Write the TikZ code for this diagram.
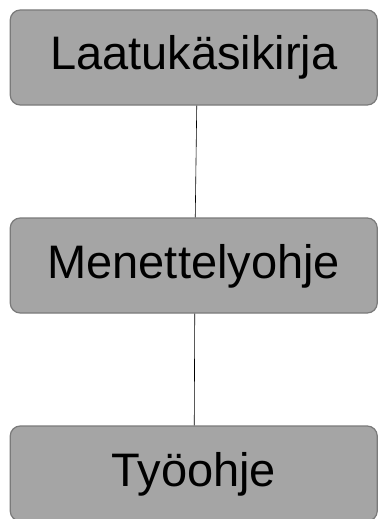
\documentclass[tikz,border=0pt]{standalone}
\usepackage{fontspec}
\setmainfont{Liberation Sans}
\definecolor{boxfill}{HTML}{A5A5A5}
\definecolor{boxline}{HTML}{7A7A7A}
\begin{document}
\begin{tikzpicture}[x=1pt,y=-1pt,
  docbox/.style={draw=boxline, line width=1.2pt, fill=boxfill, rounded corners=10pt,
    minimum width=367pt, minimum height=95pt, inner sep=0pt,
    font=\fontsize{47}{56}\selectfont, text height=34pt, text depth=9pt},
  link/.style={draw=black, line width=0.6pt}]
\useasboundingbox (0,0) rectangle (379,519);
\node[docbox] (a) at (193.75,57.5) {Laatukäsikirja};
\node[docbox] (b) at (193.75,265.5) {Menettelyohje};
\node[docbox] (c) at (193.75,473.5) {Työohje};
\draw[link] ([xshift=3pt]a.south) -- ([xshift=1.5pt]b.north);
\draw[link] ([xshift=1pt]b.south) -- ([xshift=0.5pt]c.north);
\end{tikzpicture}
\end{document}
